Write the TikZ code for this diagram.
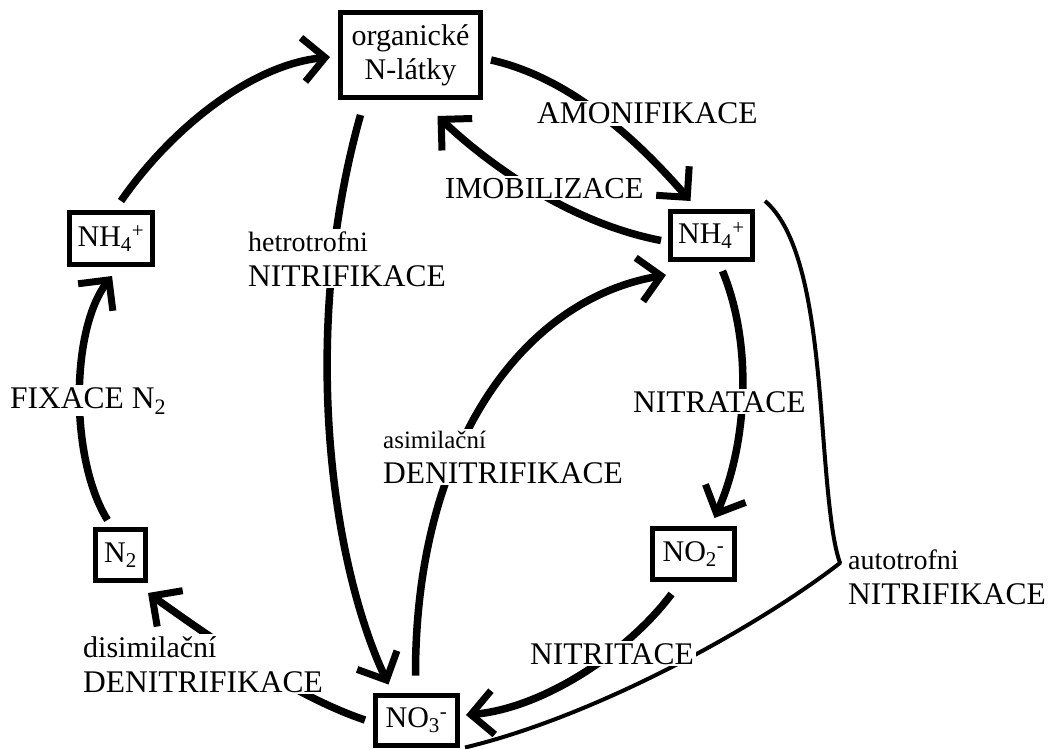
\documentclass[tikz,border=0pt]{standalone}
\usepackage{fontspec}
\setmainfont{Liberation Serif}
\usetikzlibrary{arrows.meta,calc}
\newcommand\dfont{\fontsize{31.5}{35}\selectfont}
\newcommand\bfontx{\fontsize{30}{34}\selectfont}
\newcommand\sfontx{\fontsize{28}{35}\selectfont}
\begin{document}
\begin{tikzpicture}[x=1pt,y=-1pt,
  box/.style={draw,line width=5pt,inner sep=0pt,align=center,font=\bfontx},
  arr/.style={line width=7.5pt,-{Straight Barb[length=22pt,width=44pt,line width=7pt]}},
  lbl/.style={fill=white,inner sep=2pt,align=left,font=\dfont,anchor=base west},
  brace/.style={line width=4pt,line join=round}]
\useasboundingbox (0,0) rectangle (1050,749);
% boxes
\node[box,minimum width=140pt,minimum height=85pt] (org) at (410.5,55) {organické\\N-látky};
\node[box,minimum width=82pt,minimum height=48pt] (nhR) at (711.5,235.5) {NH\textsubscript{4}\textsuperscript{+}};
\node[box,minimum width=82pt,minimum height=51pt] (no2) at (693.5,554) {NO\textsubscript{2}\textsuperscript{-}};
\node[box,minimum width=82pt,minimum height=50pt] (no3) at (416.5,720) {NO\textsubscript{3}\textsuperscript{-}};
\node[box,minimum width=83pt,minimum height=52pt] (nhL) at (111,238.5) {NH\textsubscript{4}\textsuperscript{+}};
\node[box,minimum width=50pt,minimum height=51pt] (n2) at (120.5,555) {N\textsubscript{2}};
% connectors
\draw[arr] ($(nhL.north)+(10,-9)$) .. controls (170,130) and (250,65) .. ($(org.west)+(-8,2)$);
\draw[arr] ($(n2.north)+(-13,-7)$) .. controls (70,460) and (70,330) .. ($(nhL.south)+(1,9)$);
\draw[arr] ($(no3.west)+(-8,0)$) .. controls (290,695) and (200,630) .. ($(n2.south east)+(0,10)$);
\draw[arr] ($(org.south)+(-50,15)$) .. controls (300,330) and (330,560) .. ($(no3.north)+(-28,-8)$);
\draw[arr] ($(no3.north)+(-1,-17)$) .. controls (415,450) and (520,300) .. ($(nhR.south west)+(-2,13)$);
\draw[arr] ($(org.east)+(8,5)$) .. controls (580,80) and (650,155) .. ($(nhR.north)+(-21,-8)$);
\draw[arr] ($(nhR.west)+(-7,5)$) .. controls (580,225) and (500,175) .. ($(org.south)+(27,16)$);
\draw[arr] ($(nhR.south)+(11,9)$) .. controls (755,350) and (745,450) .. ($(no2.north)+(21,-8)$);
\draw[arr] ($(no2.south)+(-22,12)$) .. controls (630,650) and (545,708) .. ($(no3.east)+(6,-5)$);
% brace
\coordinate (bp) at (840,563);
\draw[brace] ($(nhR.north east)+(10,-8)$) .. controls (805,235) and (815,330) .. (822,420) .. controls (828,500) and (832,540) .. (bp) .. controls (760,625) and (600,715) .. ($(no3.south east)+(5,0)$);
% labels
\node[lbl] (lAmon) at (535,124) {AMONIFIKACE};
\node[lbl] (lImob) at (443,198) {\fontsize{30.5}{35}\selectfont IMOBILIZACE};
\node[lbl] (lHet) at (246,286) {{\sfontx hetrotrofni}\\NITRIFIKACE};
\node[lbl] (lFix) at (8,408) {FIXACE N\textsubscript{2}};
\node[lbl] (lDis) at (81,692) {{\fontsize{30}{35}\selectfont disimilační}\\DENITRIFIKACE};
\node[lbl] (lAsim) at (381,483) {{\fontsize{25}{35}\selectfont asimilační}\\DENITRIFIKACE};
\node[lbl] (lNitra) at (631,412) {NITRATACE};
\node[lbl] (lNitri) at (528,664) {NITRITACE};
\node[lbl,fill=none] (lAuto) at (846,604) {{\sfontx autotrofni}\\NITRIFIKACE};
\end{tikzpicture}
\end{document}
